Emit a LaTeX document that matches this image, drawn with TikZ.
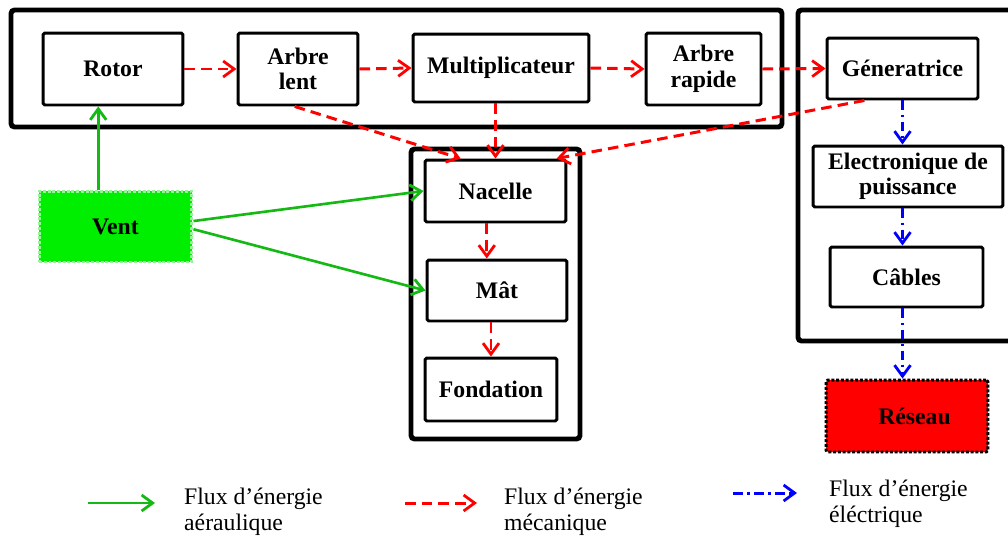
\documentclass[tikz,border=0pt]{standalone}
\usepackage{fontspec}
\setmainfont{Liberation Serif}
\usepackage{tikz}
\usetikzlibrary{arrows.meta,positioning}
\definecolor{vert}{RGB}{20,185,20}
\definecolor{vertvif}{RGB}{0,238,0}
\definecolor{vertpale}{RGB}{150,245,150}

\begin{document}
\begin{tikzpicture}[x=0.02cm,y=-0.02cm,font=\fontsize{13.5}{14.5}\selectfont\bfseries]
\tikzset{
    %Define standard arrow tip
    >={Straight Barb[length=2.2mm,width=3.2mm,line width=1.6pt]},
    %Define style for boxes
    bloc/.style={
           rectangle,
           rounded corners=1pt,
           draw=black, line width=1.7pt,
           align=center,
           inner sep=2pt,
           },
    % Define style for the big frames
    cadre/.style={
           draw=black,
           line width=2.8pt,
           rounded corners=2pt,
           },
    % Define arrow styles
    paero/.style={
           ->,
           draw=vert,
           line width=1.5pt,},
    pmeca/.style={
           ->,
           draw=red,
           line width=1.7pt,
           dash pattern=on 6pt off 3.5pt,},
    pelec/.style={
           ->,
           draw=blue,
           line width=1.7pt,
           dash pattern=on 5.5pt off 2.5pt on 1.5pt off 2.5pt,},
    legende/.style={
           anchor=west,
           align=left,
           font=\fontsize{13.5}{14.5}\selectfont\mdseries,
           }
}
	\useasboundingbox (0,0) rectangle (1008,538);
 %frames
	\draw[cadre] (11,10) rectangle (782,127);
	\draw[cadre] (798,10) rectangle (1020,341);
	\draw[cadre] (411,149) rectangle (580,439);

 %nodes
	\node[bloc,minimum width=2.8cm,minimum height=1.44cm] (rotor) at (113,69) {Rotor};
	\node[bloc,minimum width=2.4cm,minimum height=1.44cm] (lent) at (298,69) {Arbre\\lent};
	\node[bloc,minimum width=3.52cm,minimum height=1.36cm] (multi) at (501,68) {Multiplicateur};
	\node[bloc,minimum width=2.3cm,minimum height=1.44cm] (rapide) at (703.5,69) {Arbre\\rapide};
	\node[bloc,minimum width=3.02cm,minimum height=1.22cm] (gen) at (902.5,68.5) {Géneratrice};
	\node[bloc,minimum width=3.8cm,minimum height=1.22cm] (elec) at (908,176.5) {Electronique de\\puissance};
	\node[bloc,minimum width=3.06cm,minimum height=1.2cm] (cables) at (906.5,277) {Câbles};
	\node[bloc,minimum width=2.82cm,minimum height=1.24cm] (nacelle) at (495.5,191) {Nacelle};
	\node[bloc,minimum width=2.8cm,minimum height=1.22cm] (mat) at (497,290.5) {Mât};
	\node[bloc,minimum width=2.64cm,minimum height=1.26cm] (fondation) at (491,389.5) {Fondation};
	\node[bloc,rounded corners=0pt,fill=vertvif,draw=vertpale,densely dotted,minimum width=3.06cm,minimum height=1.42cm] (vent) at (115.5,226.5) {Vent};
	\node[bloc,fill=red,densely dotted,minimum width=3.24cm,minimum height=1.44cm] (reseau) at (907,416) {\hspace{0.3cm}Réseau};

 %mechanical flow
	\path (rotor.east) edge[pmeca] (lent.west);
	\path (lent.east) edge[pmeca] (multi.west);
	\path (multi.east) edge[pmeca] (rapide.west);
	\path (rapide.east) edge[pmeca] (gen.west);
	\path (lent.265) edge[pmeca] (nacelle.137);
	\path (nacelle.north |- multi.south) edge[pmeca] (nacelle.north);
	\path (gen.220) edge[pmeca] (nacelle.28);
	\path (nacelle.255) edge[pmeca] (nacelle.255 |- mat.north);
	\path (mat.south -| fondation.north) edge[pmeca] (fondation.north);

 %wind flow
	\path (vent.115) edge[paero] (vent.115 |- rotor.south);
	\path (vent.4) edge[paero] (nacelle.west);
	\path (vent.-2) edge[paero] (mat.west);

 %electrical flow
	\path (gen.south) edge[pelec] (gen.south |- elec.north);
	\path (elec.south -| gen.south) edge[pelec] (gen.south |- cables.north);
	\path (cables.south -| gen.south) edge[pelec] (gen.south |- reseau.north);

 %legend
	\coordinate (la1) at (88,503);
	\coordinate (la2) at (155,503);
	\coordinate (lm1) at (405,503);
	\coordinate (lm2) at (477,503);
	\coordinate (le1) at (733,493);
	\coordinate (le2) at (797,493);
	\path (la1) edge[paero] (la2);
	\path (lm1) edge[pmeca] (lm2);
	\path (le1) edge[pelec] (le2);
	\node[legende] (taero) at (178,512) {Flux d'énergie\\aéraulique};
	\node[legende] (tmeca) at (498,512) {Flux d'énergie\\mécanique};
	\node[legende] (telec) at (823,504) {Flux d'énergie\\éléctrique};

\end{tikzpicture}
\end{document}
